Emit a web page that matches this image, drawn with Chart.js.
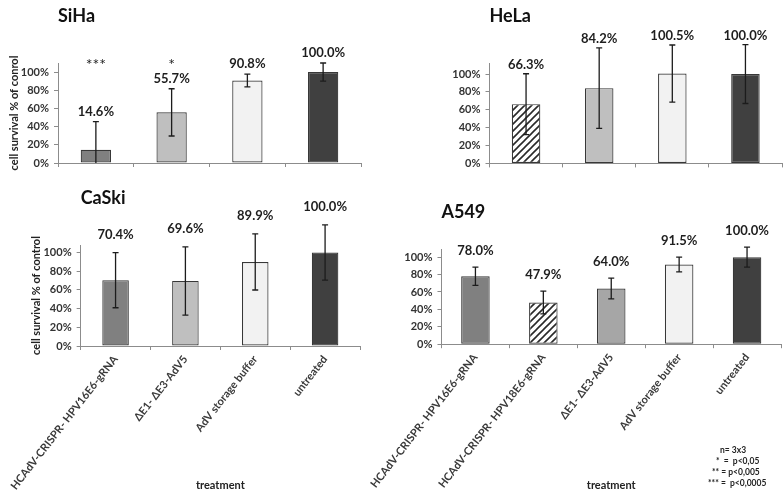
<!DOCTYPE html>
<html><head><meta charset="utf-8">
<script src="https://cdn.jsdelivr.net/npm/chart.js@4/dist/chart.umd.min.js"></script>
<style>
body{margin:0;background:#fff;width:784px;height:494px;position:relative;overflow:hidden;font-family:Lato,sans-serif}
canvas{position:absolute}
.note{position:absolute;font:bold 8.5px Lato,sans-serif;color:#222;white-space:pre}
</style></head>
<body>
<canvas id="siha" width="392" height="175" style="left:0;top:0"></canvas>
<canvas id="hela" width="392" height="175" style="left:392px;top:0"></canvas>
<canvas id="caski" width="362" height="319" style="left:0;top:175px"></canvas>
<canvas id="a549" width="422" height="319" style="left:362px;top:175px"></canvas>
<div class="note" style="left:720px;top:445px">n= 3x3</div>
<div class="note" style="left:716px;top:456px">*  =  p&lt;0,05</div>
<div class="note" style="left:712px;top:467px">** = p&lt;0,005</div>
<div class="note" style="left:708px;top:478px">*** =  p&lt;0,0005</div>
<script>
// ---- data ----
const cervicalCategories = ['HCAdV-CRISPR- HPV16E6-gRNA', 'ΔE1- ΔE3-AdV5', 'AdV storage buffer', 'untreated'];
const helaCategories = ['HCAdV-CRISPR- HPV18E6-gRNA', 'ΔE1- ΔE3-AdV5', 'AdV storage buffer', 'untreated'];
const a549Categories = ['HCAdV-CRISPR- HPV16E6-gRNA', 'HCAdV-CRISPR- HPV18E6-gRNA', 'ΔE1- ΔE3-AdV5', 'AdV storage buffer', 'untreated'];

const sihaValues = [14.6, 55.7, 90.8, 100.0];
const sihaErrors = [31, 26, 7, 10];
const sihaStars = ['***', '*', '', ''];

const helaValues = [66.3, 84.2, 100.5, 100.0];
const helaErrors = [34, 45, 32, 33];

const caskiValues = [70.4, 69.6, 89.9, 100.0];
const caskiErrors = [29.5, 36.5, 30, 29.5];

const a549Values = [78.0, 47.9, 64.0, 91.5, 100.0];
const a549Errors = [10.5, 13, 12, 8.5, 11.5];

const yTickValues = [0, 20, 40, 60, 80, 100];
const xAxisTitle = 'treatment';

// ---- styles ----
const F = 'Lato, sans-serif';
function stripes() {
  const c = document.createElement('canvas');
  c.width = 7; c.height = 7;
  const g = c.getContext('2d');
  g.fillStyle = '#fff'; g.fillRect(0, 0, 7, 7);
  g.strokeStyle = '#2a2a2a'; g.lineWidth = 1.6;
  g.beginPath();
  g.moveTo(-1, 8); g.lineTo(8, -1);
  g.moveTo(-1, 1); g.lineTo(1, -1);
  g.moveTo(6, 8); g.lineTo(8, 6);
  g.stroke();
  return g.createPattern(c, 'repeat');
}
const STRIPE = stripes();
const C1 = '#808080', C2 = '#bfbfbf', C2b = '#a6a6a6', C3 = '#f2f2f2', C4 = '#404040';

function overlay(p) {
  return {
    id: 'overlay_' + p.id,
    afterDraw(chart) {
      const ctx = chart.ctx, y = chart.scales.y;
      const meta = chart.getDatasetMeta(0);
      ctx.save();
      p.values.forEach((v, i) => {
        const e = p.errors[i];
        const xp = meta.data[i].x;
        const top = y.getPixelForValue(v + e);
        const lowV = v - e;
        const bot = y.getPixelForValue(Math.max(0, lowV));
        ctx.strokeStyle = '#1c1c1c'; ctx.lineWidth = 1.3;
        ctx.beginPath();
        ctx.moveTo(xp, top); ctx.lineTo(xp, bot);
        ctx.moveTo(xp - 3, top); ctx.lineTo(xp + 3, top);
        if (lowV > 0) { ctx.moveTo(xp - 3, bot); ctx.lineTo(xp + 3, bot); }
        ctx.stroke();
        ctx.fillStyle = '#1e1e1e';
        ctx.textAlign = 'center'; ctx.textBaseline = 'middle';
        ctx.font = 'bold 13px ' + F;
        ctx.fillText(v.toFixed(1) + '%', xp, top - p.gap);
        if (p.stars && p.stars[i]) {
          ctx.font = '16px ' + F;
          ctx.fillText(p.stars[i], xp, y.top + 2);
        }
      });
      ctx.restore();
    }
  };
}

function makeChart(p) {
  return new Chart(document.getElementById(p.id), {
    type: 'bar',
    data: {
      labels: p.labels,
      datasets: [{
        data: p.values,
        backgroundColor: p.colors,
        borderColor: '#383838',
        borderWidth: 1.2,
        borderSkipped: false,
        barPercentage: p.barPct,
        categoryPercentage: 1
      }]
    },
    options: {
      responsive: false,
      animation: false,
      layout: { padding: { left: 0, right: p.padRight, top: 0, bottom: 0 } },
      plugins: {
        legend: { display: false },
        tooltip: { enabled: false },
        title: {
          display: true, text: p.title, align: 'start', fullSize: false,
          color: '#111', font: { family: F, size: 18, weight: 'bold' },
          padding: { top: p.titleTop, bottom: p.titleBottom }
        }
      },
      scales: {
        x: {
          ticks: {
            display: p.showX, minRotation: 52, maxRotation: 52, autoSkip: false,
            color: '#3a3a3a', font: { family: F, size: 11, weight: 'bold' }, padding: 3
          },
          grid: { offset: true, drawOnChartArea: false, tickLength: 4, color: '#8c8c8c' },
          border: { color: '#8c8c8c' },
          title: {
            display: p.showX, text: xAxisTitle, color: '#222',
            font: { family: F, size: 11, weight: 'bold' }, padding: { top: 0, bottom: 2.4 }
          },
          afterFit: s => { s.height = p.xH; }
        },
        y: {
          min: 0, max: p.max,
          afterBuildTicks: s => { s.ticks = yTickValues.map(v => ({ value: v })); },
          ticks: {
            callback: v => v + '%', color: '#333', padding: 5,
            font: { family: F, size: 11, weight: 'bold' }
          },
          grid: { drawOnChartArea: false, tickLength: 4, color: '#8c8c8c' },
          border: { color: '#8c8c8c' },
          title: {
            display: !!p.yTitle, text: p.yTitle || '', color: '#222',
            font: { family: F, size: 11, weight: 'bold' }, padding: { top: p.yTitlePad || 0, bottom: 0 }
          },
          afterFit: s => { s.width = p.yW; }
        }
      }
    },
    plugins: [overlay(p)]
  });
}

makeChart({
  id: 'siha', title: 'SiHa', labels: cervicalCategories, values: sihaValues, errors: sihaErrors,
  stars: sihaStars, colors: [C1, C2, C3, C4], barPct: 0.4, max: 110,
  yW: 58, padRight: 31, xH: 12, titleTop: 5, titleBottom: 36.4, showX: false,
  yTitle: 'cell survival % of conrol', yTitlePad: 8, gap: 10
});
makeChart({
  id: 'hela', title: 'HeLa', labels: helaCategories, values: helaValues, errors: helaErrors,
  colors: [STRIPE, C2, C3, C4], barPct: 0.39, max: 112,
  yW: 97.5, padRight: 2, xH: 9.3, titleTop: 5, titleBottom: 36.7, showX: false, gap: 9
});
makeChart({
  id: 'caski', title: 'CaSki', labels: cervicalCategories, values: caskiValues, errors: caskiErrors,
  colors: [C1, C2, C3, C4], barPct: 0.38, max: 108,
  yW: 59, padRight: 2, xH: 148, titleTop: 12.7, titleBottom: 35.7, showX: true,
  yTitle: 'cell survival % of control', yTitlePad: 8.4, gap: 18
});
makeChart({
  id: 'a549', title: 'A549', labels: a549Categories, values: a549Values, errors: a549Errors,
  colors: [C1, STRIPE, C2b, C3, C4], barPct: 0.42, max: 109,
  yW: 54.7, padRight: 3, xH: 149.8, titleTop: 26.2, titleBottom: 26.5, showX: true, gap: 16
});
</script>
</body></html>
